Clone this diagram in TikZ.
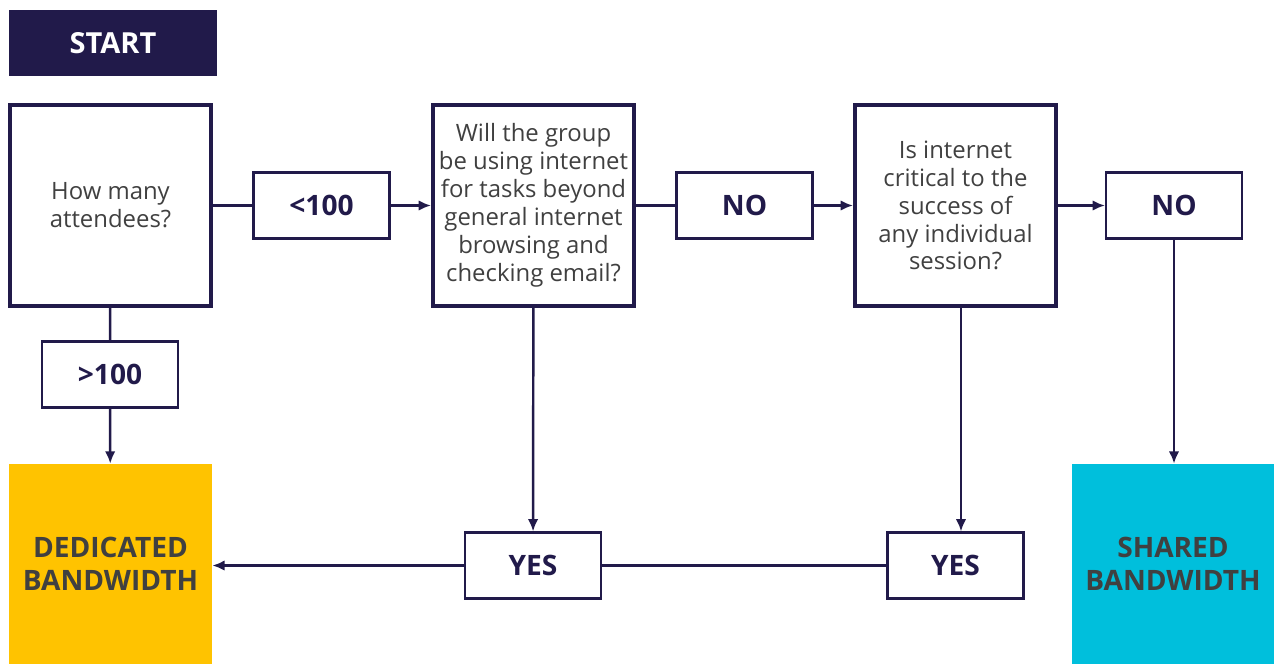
\documentclass[tikz,border=0pt]{standalone}
\usepackage{fontspec}
\setmainfont{Open Sans}
\usetikzlibrary{arrows.meta}
\definecolor{navy}{HTML}{211A4A}
\definecolor{gold}{HTML}{FFC300}
\definecolor{sky}{HTML}{00BFDC}
\definecolor{ink}{HTML}{404040}
\begin{document}
\begin{tikzpicture}[
        x=0.02cm, y=-0.02cm,
        question/.style={draw=navy, line width=2.3pt, minimum width=4.02cm, minimum height=4.02cm,
            align=center, text=ink, font=\fontsize{13.6}{15.9}\selectfont, inner sep=0pt},
        answer/.style={draw=navy, line width=1.2pt, minimum width=2.72cm, minimum height=1.32cm,
            text=navy, font=\fontsize{16}{19}\selectfont\bfseries},
        result/.style={minimum width=4.06cm, minimum height=4cm, align=center, inner sep=0pt,
            text=ink, font=\fontsize{16}{18.7}\selectfont\bfseries},
        link/.style={draw=navy, line width=1.4pt},
        arrow/.style={link, -{Latex[length=7pt,width=6pt]}},
    ]
    \useasboundingbox (0,0) rectangle (1274,664);
    \node[fill=navy, text=white, minimum width=4.16cm, minimum height=1.32cm,
        font=\fontsize{16.5}{19}\selectfont\bfseries] (start) at (113,43) {START};
    \node[question] (attendees) at (110.5,205.5) {How many\\attendees?};
    \node[answer] (less) at (321.5,205.5) {<100};
    \node[question] (tasks) at (533.5,205.5) {Will the group\\be using internet\\for tasks beyond\\general internet\\browsing and\\checking email?};
    \node[answer] (no1) at (744.5,205.5) {NO};
    \node[question] (critical) at (955.5,205.5) {Is internet\\critical to the\\success of\\any individual\\session?};
    \node[answer] (no2) at (1174,205.5) {NO};
    \node[answer] (more) at (110,374.5) {>100};
    \node[answer] (yes1) at (533,565.5) {YES};
    \node[answer] (yes2) at (955.5,565.5) {YES};
    \node[result, fill=gold] (dedicated) at (110.5,564) {DEDICATED\\BANDWIDTH};
    \node[result, fill=sky] (shared) at (1173,564) {SHARED\\BANDWIDTH};
    \coordinate (drop) at ([xshift=0.11cm]critical.south);

    \draw[link] (attendees) -- (less);
    \draw[arrow] (less) -- (tasks);
    \draw[link] (tasks) -- (no1);
    \draw[arrow] (no1) -- (critical);
    \draw[arrow] (critical) -- (no2);
    \draw[arrow] (no2) -- (no2 |- shared.north);
    \draw[link] (attendees) -- (more);
    \draw[arrow] (more) -- (dedicated);
    \draw[arrow] (tasks) -- (yes1);
    \draw[arrow] (drop) -- (drop |- yes2.north);
    \draw[link] (yes2) -- (yes1);
    \draw[arrow] (yes1.west) -- (yes1.west -| dedicated.east);
\end{tikzpicture}
\end{document}
